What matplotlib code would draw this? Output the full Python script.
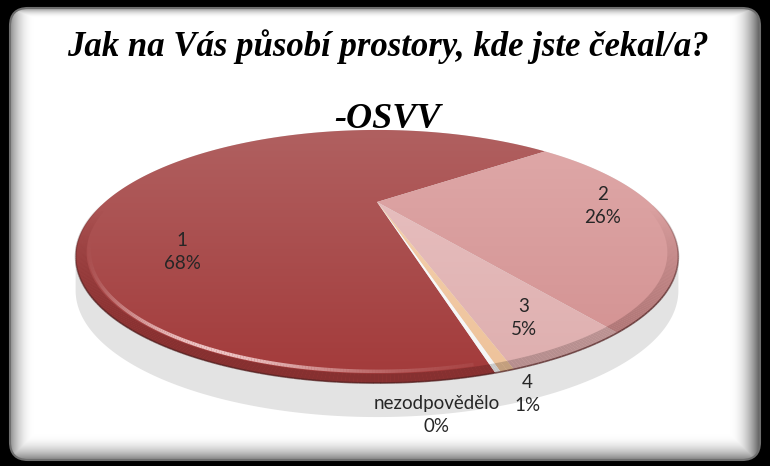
import numpy as np
import matplotlib
matplotlib.use('Agg')
import matplotlib.pyplot as plt
from matplotlib.patches import FancyBboxPatch, Polygon
from matplotlib.collections import PolyCollection, LineCollection
from matplotlib.colors import to_rgb

# data
labels = ['1', '2', '3', '4', 'nezodpovědělo']
values = [68.4, 26.0, 4.9, 0.5, 0.2]
top_colors = ['#b06060', '#dfa9a9', '#e9c3c3', '#f5d3b2', '#ffffff']
bot_colors = ['#a33a3a', '#d28f8f', '#deaeae', '#eec29a', '#f4f4f4']
title = 'Jak na Vás působí prostory, kde jste čekal/a?'
subtitle = '-OSVV'

# label anchors (pixel layout of the original)
label_xy = [(182, 252), (603, 206), (524, 318), (527, 394), (437, 415)]

W, H = 770, 466
fig = plt.figure(figsize=(W / 100, H / 100), dpi=100)
fig.patch.set_facecolor('black')
ax = fig.add_axes([0, 0, 1, 1])
ax.axis('off')

# ---- rounded white panel with grey bevel
yy, xx = np.mgrid[0:H, 0:W] + 0.5


def ramp(d, lo):
    d = np.clip(d, 0, 1)
    return lo + (1 - lo) * (1 - (1 - d) ** 2)


shade = np.minimum.reduce([ramp((xx - 10) / 24, 0.55), ramp((760 - xx) / 30, 0.35),
                           ramp((yy - 8) / 10, 0.55), ramp((460 - yy) / 26, 0.5)])
img = np.dstack([shade] * 3)
panel = FancyBboxPatch((10, 8), 750, 452, boxstyle='round,pad=0,rounding_size=18',
                       facecolor='none', edgecolor='#6e6e6e', lw=1.5, zorder=2)
ax.add_patch(panel)
im = ax.imshow(img, extent=(0, W, H, 0), zorder=1, interpolation='bilinear')
im.set_clip_path(panel)

# ---- perspective projection of the pie disc
cx, cy = 377, 202
R, s, c, D = 272, 0.379, 0.925, 2.148


def project(theta, r=1.0):
    t = np.radians(theta)
    u = r * np.sin(t)
    v = r * np.cos(t)
    f = D / (D + c * v)
    return cx + R * u * f, cy - R * v * s * f


# shadow under the pie
drop = 34
far = np.linspace(244.5, 475.5, 200)
near = np.linspace(115.5, 244.5, 200)
fx, fy = project(far)
nx, ny = project(near)
ax.fill(np.r_[fx, nx], np.r_[fy, ny + drop], color='#e3e3e3', zorder=3, lw=0)

pie_top = project(0)[1]
pie_bot = project(180)[1]


def grad_fill(poly, c_top, c_bot, z):
    patch = Polygon(poly, closed=True, facecolor='none', edgecolor='none', zorder=z)
    ax.add_patch(patch)
    t = np.linspace(0, 1, 64)[:, None]
    a = np.array(to_rgb(c_top))
    b = np.array(to_rgb(c_bot))
    g = a + (b - a) * t
    x0, x1 = poly[:, 0].min(), poly[:, 0].max()
    im = ax.imshow(g[:, None, :], extent=(x0, x1, pie_bot, pie_top), zorder=z,
                   interpolation='bilinear', aspect='auto')
    im.set_clip_path(patch)


total = sum(values)
start = 165.3
a0 = start
spans = []
for i, v in enumerate(values):
    a1 = a0 + 360 * v / total
    th = np.linspace(a0, a1, max(int(abs(a1 - a0) * 2), 4))
    xs, ys = project(th)
    poly = np.column_stack([np.r_[cx, xs], np.r_[cy, ys]])
    grad_fill(poly, top_colors[i], bot_colors[i], 4 + i * 0.01)
    spans.append((a0, a1))
    a0 = a1

# darker rim along the near edge
quads, qcol = [], []
for i, (b0, b1) in enumerate(spans):
    th = np.linspace(b0, b1, max(int((b1 - b0) * 2), 3))
    base = np.array(to_rgb(bot_colors[i])) * 0.82
    for t0, t1 in zip(th[:-1], th[1:]):
        tm = (t0 + t1) / 2
        alpha = np.clip(-np.cos(np.radians(tm)) * 1.2 - 0.1, 0, 1)
        if alpha <= 0:
            continue
        p = [project(t0, 1.0), project(t1, 1.0), project(t1, 0.97), project(t0, 0.97)]
        quads.append(p)
        qcol.append((*base, alpha))
ax.add_collection(PolyCollection(quads, facecolors=qcol, edgecolors='none', zorder=5))

# glossy highlight on the bevel of the big slice
th = np.linspace(spans[0][0] + 2, 250, 200)
hx, hy = project(th, 0.962)
segs = [[(hx[k], hy[k]), (hx[k + 1], hy[k + 1])] for k in range(len(th) - 1)]
mid = (th[:-1] + th[1:]) / 2
hal = np.exp(-((mid - 203) / 22) ** 2) * 0.85
ax.add_collection(LineCollection(segs, colors=[(0.99, 0.87, 0.87, a) for a in hal],
                                 linewidths=2.5, zorder=6))

# thin dark outline of the near edge
th = np.linspace(92, 268, 200)
ox, oy = project(th)
segs = [[(ox[k], oy[k]), (ox[k + 1], oy[k + 1])] for k in range(len(th) - 1)]
mid = (th[:-1] + th[1:]) / 2
oal = np.clip(-np.cos(np.radians(mid)) * 1.5, 0, 1) * 0.7
ax.add_collection(LineCollection(segs, colors=[(0.3, 0.12, 0.12, a) for a in oal],
                                 linewidths=1.2, zorder=6))

# ---- labels
for i, (lx, ly) in enumerate(label_xy):
    pct = int(100 * values[i] / total + 0.5)
    ax.text(lx, ly, f'{labels[i]}\n{pct}%', ha='center', va='center', fontsize=13.5,
            family='Lato', color='#262626', linespacing=1.4, zorder=8)

# ---- titles
ax.text(388, 56, title, ha='center', va='baseline', fontsize=25, family='Liberation Serif',
        weight='bold', style='italic', color='black', zorder=8)
ax.text(387, 128, subtitle, ha='center', va='baseline', fontsize=26, family='Liberation Serif',
        weight='bold', style='italic', color='black', zorder=8)

ax.set_xlim(0, W)
ax.set_ylim(H, 0)
ax.set_aspect('auto')
fig.savefig('out.png', dpi=100, facecolor='black')
